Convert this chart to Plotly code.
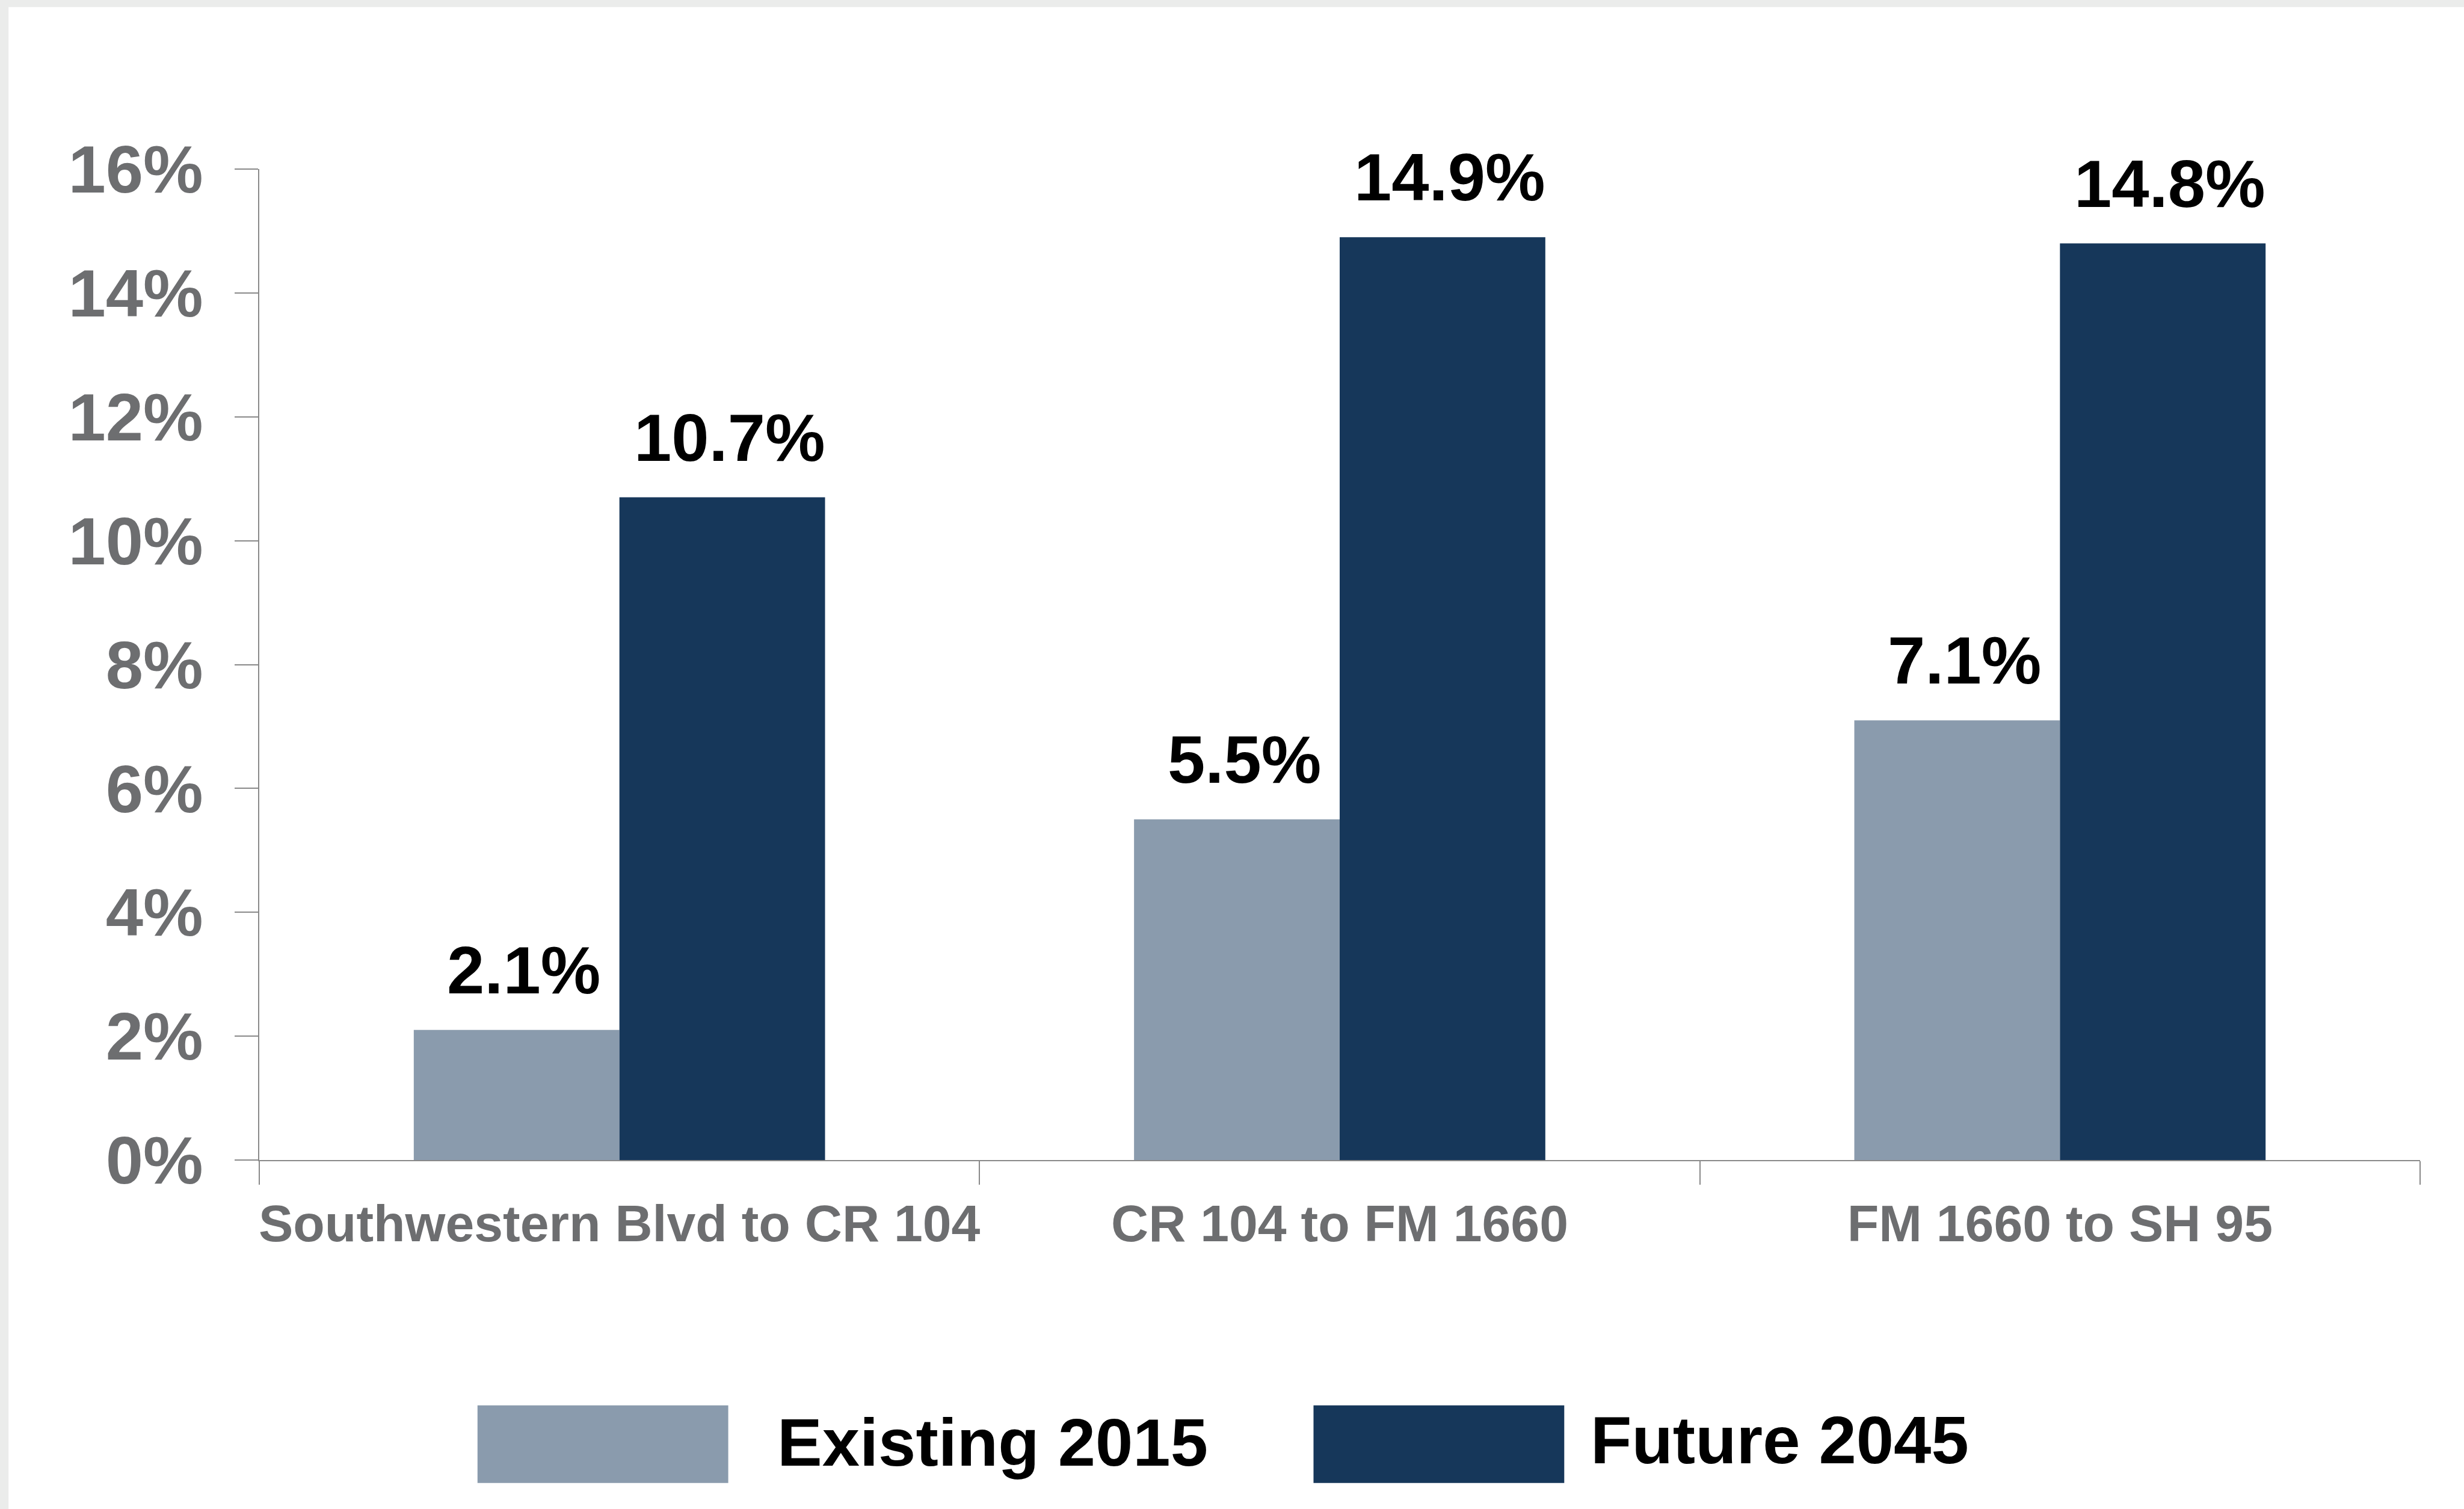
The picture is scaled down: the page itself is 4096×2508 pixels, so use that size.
import plotly.graph_objects as go

# ---------------- data ----------------
categories = ["Southwestern Blvd to CR 104", "CR 104 to FM 1660", "FM 1660 to SH 95"]
existing_2015 = [2.1, 5.5, 7.1]
future_2045 = [10.7, 14.9, 14.8]
series_names = ["Existing 2015", "Future 2045"]
y_tickvals = [0, 2, 4, 6, 8, 10, 12, 14, 16]
y_ticktext = ["0%", "2%", "4%", "6%", "8%", "10%", "12%", "14%", "16%"]

# ---------------- styling ----------------
W, H = 4096, 2508
S = W / 4472.0
L, R, T, B = 471 * S, W - 4392 * S, 307 * S, H - 2105 * S
PW, PH = W - L - R, H - T - B
BARGAP = 0.429

LIGHT = "#8a9bad"
DARK = "#16375a"
AXIS = "#898989"
TICKTXT = "#6d6e70"
BOLD = "Liberation Sans, Arial, sans-serif"

def px(x):
    return (x - L) / PW

def py(y):
    return (H - B - y) / PH

fig = go.Figure()
fig.add_trace(go.Bar(x=categories, y=existing_2015, name=series_names[0],
                     marker=dict(color=LIGHT, line=dict(width=0))))
fig.add_trace(go.Bar(x=categories, y=future_2045, name=series_names[1],
                     marker=dict(color=DARK, line=dict(width=0))))

# data labels above each bar
bar_w = PW / len(categories) * (1 - BARGAP) / 2
annotations = []
for vals, shift in ((existing_2015, -bar_w / 2), (future_2045, bar_w / 2)):
    for c, v in zip(categories, vals):
        annotations.append(dict(
            x=c, y=v, xref="x", yref="y", text=f"{v:.1f}%", showarrow=False,
            xanchor="center", yanchor="bottom", xshift=shift + 12, yshift=35,
            font=dict(family=BOLD, size=112, color="#000000", weight="bold")))

# custom legend (large swatches)
legend_items = [
    (series_names[0], LIGHT, 867, 1322, 1409, 2618),
    (series_names[1], DARK, 2384, 2839, 2884, 2613),
]
shapes = []
for name, col, x0, x1, tx, ty in legend_items:
    shapes.append(dict(type="rect", xref="paper", yref="paper",
                       x0=px(x0 * S), x1=px(x1 * S), y0=py(2691 * S), y1=py(2550 * S),
                       fillcolor=col, line=dict(width=0), layer="above"))
    annotations.append(dict(
        x=px(tx * S), y=py(ty * S), xref="paper", yref="paper", text=name,
        showarrow=False, xanchor="left", yanchor="middle",
        font=dict(family=BOLD, size=112, color="#000000", weight="bold")))

# grey frame bands (top and left)
BAND = "#ebeceb"
shapes.append(dict(type="rect", xref="paper", yref="paper",
                   x0=px(0), x1=px(W), y0=py(13 * S), y1=py(0),
                   fillcolor=BAND, line=dict(width=0), layer="below"))
shapes.append(dict(type="rect", xref="paper", yref="paper",
                   x0=px(0), x1=px(16 * S), y0=py(H), y1=py(0),
                   fillcolor=BAND, line=dict(width=0), layer="below"))

fig.update_layout(
    width=W, height=H,
    margin=dict(l=L, r=R, t=T, b=B, autoexpand=False),
    paper_bgcolor="white", plot_bgcolor="white",
    barmode="group", bargap=BARGAP, bargroupgap=0,
    showlegend=False,
    shapes=shapes, annotations=annotations,
    xaxis=dict(
        type="category", showline=True, linecolor=AXIS, linewidth=2,
        ticks="outside", tickson="boundaries", ticklen=39, tickwidth=2, tickcolor=AXIS,
        showgrid=False, zeroline=False, ticklabelstandoff=30, tickangle=0,
        tickfont=dict(family=BOLD, size=86, color=TICKTXT, weight="bold"),
    ),
    yaxis=dict(
        range=[0, 16], tickvals=y_tickvals, ticktext=y_ticktext,
        showline=True, linecolor=AXIS, linewidth=2,
        ticks="outside", ticklen=39, tickwidth=2, tickcolor=AXIS,
        showgrid=False, zeroline=False, ticklabelstandoff=30,
        tickfont=dict(family=BOLD, size=112, color=TICKTXT, weight="bold"),
    ),
)

fig.write_html("out.html")
